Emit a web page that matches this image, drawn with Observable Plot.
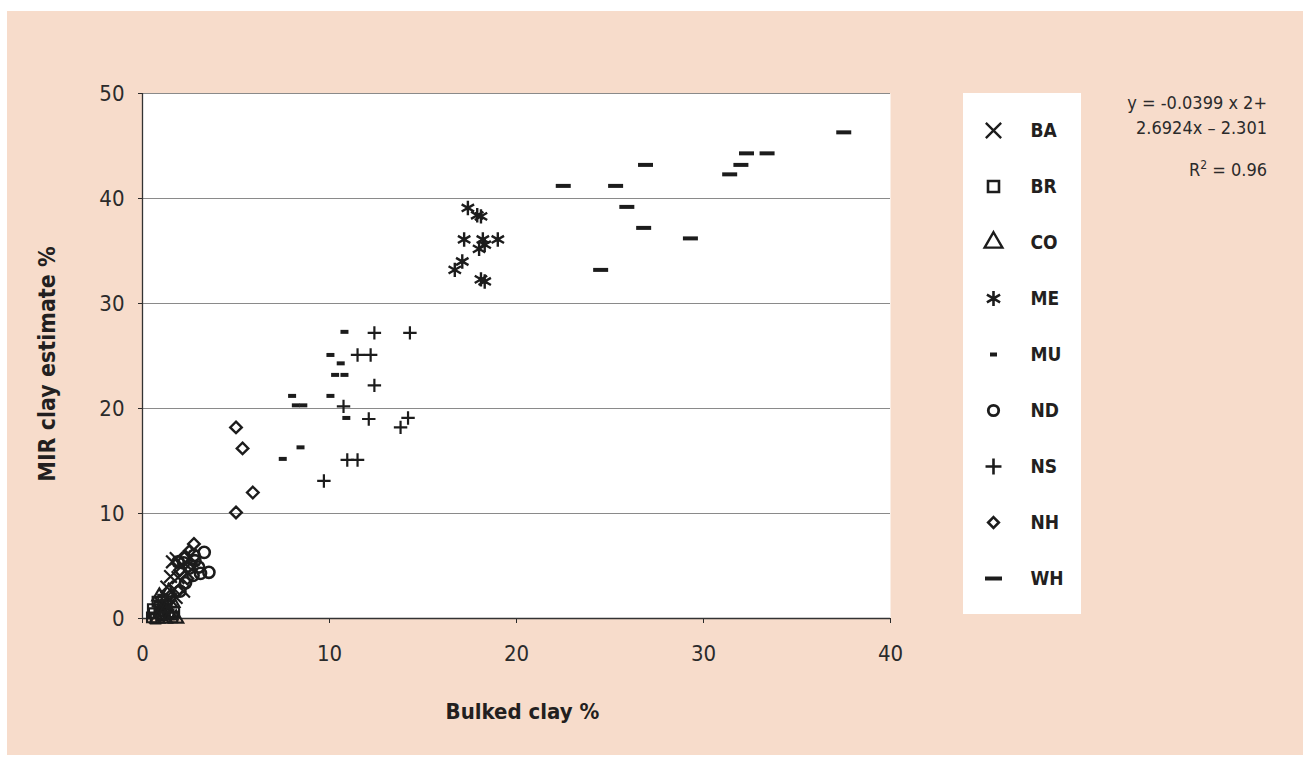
<!DOCTYPE html>
<html>
<head>
<meta charset="utf-8">
<script src="https://cdn.jsdelivr.net/npm/d3@7"></script>
<script src="https://cdn.jsdelivr.net/npm/@observablehq/plot@0.6"></script>
<style>
  html, body { margin:0; padding:0; background:#ffffff; }
  #wrap { position:relative; width:1303px; height:757px; overflow:hidden; background:#ffffff; }
  #panel { position:absolute; left:7px; top:11px; width:1296px; height:744px; background:#f7dccb; }
  #main { position:absolute; left:0; top:0; }
  #legend { position:absolute; left:963px; top:93px; }
  .eq { position:absolute; right:36px; font-family:"Liberation Sans Narrow","Arial Narrow","DejaVu Sans Condensed",sans-serif; font-stretch:condensed; font-size:18px; color:#2b2b2b; text-align:right; line-height:25px; }
  .eq sup { font-size:12px; line-height:0; vertical-align:7px; }
</style>
</head>
<body>
<div id="wrap">
  <div id="panel"></div>
  <div id="main"></div>
  <div id="legend"></div>
  <div class="eq" style="top:90px;">y = -0.0399 x 2+<br>2.6924x – 2.301</div>
  <div class="eq" style="top:157px;">R<sup>2</sup> = 0.96</div>
</div>
<script>
// ---------- data (x = Bulked clay %, y = MIR clay estimate %) ----------
const seriesNames = ["BA", "BR", "CO", "ME", "MU", "ND", "NS", "NH", "WH"];
const xTicks = [0, 10, 20, 30, 40];
const yTicks = [0, 10, 20, 30, 40, 50];

const BA = [[1.8,5.7],[1.6,5.4],[2.1,5.0],[1.5,4.0],[1.9,3.9],[1.3,3.0],[1.7,2.8],[1.2,2.2],[1.5,1.8],[1.0,1.4],[1.4,1.1],[0.9,0.8],[1.8,2.0],[2.2,2.6]];
const BR = [[0.5,0.1],[0.6,0.5],[0.8,1.6],[1.0,0.3],[1.2,0.7],[0.7,0.0],[0.9,1.1],[1.4,0.4],[1.6,0.1],[0.55,0.9],[1.1,1.8],[1.3,1.3],[1.7,0.6]];
const CO = [[0.8,0.0],[1.0,0.6],[1.2,0.0],[1.5,0.3],[1.8,0.0],[1.3,1.0],[0.9,2.1],[1.4,2.5],[1.6,1.5]];
const ME = [[17.4,39.1],[17.9,38.4],[18.1,38.3],[17.2,36.1],[18.2,36.1],[19.0,36.1],[18.0,35.2],[18.3,35.6],[17.1,34.0],[16.7,33.2],[18.1,32.3],[18.3,32.1]];
const MU = [[10.8,27.3],[10.05,25.1],[10.6,24.3],[10.3,23.2],[10.8,23.2],[8.0,21.2],[10.05,21.2],[8.2,20.3],[8.6,20.3],[10.9,19.1],[8.45,16.3],[7.5,15.2]];
const ND = [[3.3,6.3],[2.75,6.0],[2.2,5.3],[2.8,5.5],[3.0,4.9],[3.55,4.4],[2.7,4.1],[3.1,4.3],[2.3,3.4],[2.0,2.6],[2.5,4.8],[1.9,5.4]];
const NS = [[12.4,27.2],[14.3,27.2],[11.5,25.1],[12.2,25.1],[12.4,22.2],[10.75,20.2],[12.1,19.0],[14.2,19.1],[13.8,18.2],[10.95,15.1],[11.5,15.1],[9.7,13.1]];
const NH = [[5.0,18.2],[5.35,16.2],[5.9,12.0],[5.0,10.1],[2.75,7.1],[2.5,6.4],[2.3,5.9],[2.6,5.2],[2.0,4.6],[2.4,3.8]];
const WH = [[37.5,46.3],[32.3,44.3],[33.4,44.3],[26.9,43.2],[32.0,43.2],[31.4,42.3],[22.5,41.2],[25.3,41.2],[25.9,39.2],[26.8,37.2],[29.3,36.2],[24.5,33.2]];

const seriesData = {BA, BR, CO, ME, MU, ND, NS, NH, WH};

// ---------- styles ----------
const FONT = '"Liberation Sans Narrow","Arial Narrow","DejaVu Sans Condensed",sans-serif';
const INK = "#1c1c1c";
const dash = (w, h) => ({
  draw(ctx) {
    ctx.moveTo(-w / 2, -h / 2); ctx.lineTo(w / 2, -h / 2);
    ctx.lineTo(w / 2, h / 2); ctx.lineTo(-w / 2, h / 2); ctx.closePath();
  }
});
const STYLE = {
  BA: {symbol: "times", r: 5.8, strokeWidth: 2.2},
  BR: {symbol: "square", r: 5.4, strokeWidth: 2.2},
  CO: {symbol: "triangle", r: 5.2, strokeWidth: 2.2},
  ME: {symbol: "asterisk", r: 6.8, strokeWidth: 2.4},
  MU: {symbol: dash(8, 4), filled: true},
  ND: {symbol: "circle", r: 5.6, strokeWidth: 2.6},
  NS: {symbol: "plus", r: 4.4, strokeWidth: 2.2},
  NH: {symbol: "diamond2", r: 5.2, strokeWidth: 2.4},
  WH: {symbol: dash(15, 4), filled: true}
};
const LEGEND_STYLE = {
  BA: {symbol: "times", r: 7, strokeWidth: 2.4},
  BR: {symbol: "square", r: 6.2, strokeWidth: 2.6},
  CO: {symbol: "triangle", r: 6.6, strokeWidth: 2.4},
  ME: {symbol: "asterisk", r: 7.2, strokeWidth: 2.6},
  MU: {symbol: dash(7, 4), filled: true},
  ND: {symbol: "circle", r: 5.2, strokeWidth: 2.8},
  NS: {symbol: "plus", r: 5.2, strokeWidth: 2.6},
  NH: {symbol: "diamond2", r: 4.8, strokeWidth: 2.6},
  WH: {symbol: dash(17, 4), filled: true}
};
function dotOpts(s, extra) {
  const base = s.filled
    ? {symbol: s.symbol, r: 5, fill: INK, stroke: "none"}
    : {symbol: s.symbol, r: s.r, fill: "none", stroke: INK, strokeWidth: s.strokeWidth};
  return Object.assign(base, extra);
}

// ---------- main chart ----------
const pointMarks = seriesNames.map(name =>
  Plot.dot(seriesData[name], dotOpts(STYLE[name], {x: d => d[0], y: d => d[1]}))
);

const main = Plot.plot({
  width: 1303, height: 757,
  marginLeft: 142, marginRight: 413, marginTop: 93, marginBottom: 139,
  x: {domain: [0, 40]},
  y: {domain: [0, 50]},
  style: {background: "transparent", fontFamily: FONT, fontSize: "22px", color: "#2b2b2b", overflow: "visible"},
  marks: [
    Plot.frame({fill: "white", stroke: "none"}),
    Plot.gridY(yTicks.slice(1), {stroke: "#8a8a8a", strokeOpacity: 1, strokeWidth: 1.2}),
    Plot.axisY(yTicks, {tickSize: 4, tickPadding: 14, label: null, fontSize: 22}),
    Plot.axisX(xTicks, {tickSize: 5, tickPadding: 22, label: null, fontSize: 22}),
    Plot.ruleX([0], {stroke: "#333", strokeWidth: 1.3}),
    Plot.ruleY([0], {stroke: "#333", strokeWidth: 1.3}),
    ...pointMarks,
    Plot.text(["Bulked clay %"], {frameAnchor: "bottom", lineAnchor: "middle", textAnchor: "middle", dy: 93, dx: 6, fontWeight: "bold", fontSize: 22, fill: "#231f20"}),
    Plot.text(["MIR clay estimate %"], {frameAnchor: "left", lineAnchor: "middle", textAnchor: "middle", rotate: -90, dx: -95, dy: 8, fontWeight: "bold", fontSize: 23, fill: "#231f20"})
  ]
});
document.getElementById("main").appendChild(main);

// ---------- legend ----------
const legendMarks = seriesNames.map(name =>
  Plot.dot([name], dotOpts(LEGEND_STYLE[name], {y: d => d, frameAnchor: "left", dx: 30}))
);
const legend = Plot.plot({
  width: 118, height: 521, margin: 0,
  y: {type: "point", domain: seriesNames, range: [36, 486], padding: 0, axis: null},
  style: {background: "white", fontFamily: FONT, color: "#2b2b2b"},
  marks: [
    ...legendMarks,
    Plot.text(seriesNames, {y: d => d, text: d => d, frameAnchor: "left", dx: 67, textAnchor: "start", lineAnchor: "middle", fontWeight: "bold", fontSize: 19, fill: "#231f20"})
  ]
});
document.getElementById("legend").appendChild(legend);
</script>
</body>
</html>
